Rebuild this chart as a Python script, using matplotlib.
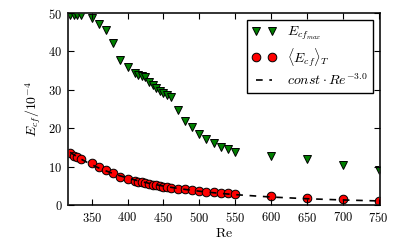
import matplotlib
matplotlib.use("Agg")
import matplotlib.pyplot as plt
import numpy as np
from matplotlib.ticker import FuncFormatter

plt.rcParams['mathtext.fontset'] = 'cm'
plt.rcParams['font.family'] = 'DejaVu Serif'

re_vals = [320, 325, 330, 335, 350, 360, 370, 380, 390, 400, 410, 415, 420, 425,
           430, 435, 440, 445, 450, 455, 460, 470, 480, 490, 500, 510, 520, 530,
           540, 550, 600, 650, 700, 750]
ecf_max = [49.4, 49.4, 49.4, 49.4, 48.6, 47.1, 45.7, 42.3, 37.9, 36.0, 34.5, 33.9,
           33.6, 33.3, 32.1, 31.2, 30.4, 29.8, 29.1, 28.6, 28.2, 24.7, 22.0, 20.2,
           18.5, 17.1, 16.1, 15.2, 14.5, 13.9, 12.8, 11.9, 10.4, 9.1]
ecf_mean = [13.5, 12.8, 12.4, 11.9, 10.9, 9.8, 9.1, 8.3, 7.4, 6.8, 6.3, 6.1, 5.9,
            5.7, 5.5, 5.3, 5.1, 4.9, 4.7, 4.6, 4.5, 4.3, 4.1, 3.85, 3.6, 3.4, 3.3,
            3.2, 3.0, 2.9, 2.3, 1.8, 1.5, 1.1]
fit_const = 4.5e8
fit_exp = -3.0
x_ticks = [350, 400, 450, 500, 550, 600, 650, 700, 750]
y_ticks = [0, 10, 20, 30, 40, 50]

fig = plt.figure(figsize=(4.0, 2.47), dpi=100)
ax = fig.add_axes([0.17, 0.17, 0.78, 0.777])

ax.plot(re_vals, ecf_max, linestyle='none', marker='v', markersize=6.2,
        markerfacecolor='#008000', markeredgecolor='black', markeredgewidth=0.7,
        label=r'$E_{{cf}_{max}}$')
ax.plot(re_vals, ecf_mean, linestyle='none', marker='o', markersize=6.2,
        markerfacecolor='#ff0000', markeredgecolor='black', markeredgewidth=0.7,
        label=r'$\langle E_{cf}\rangle_T$')
re_arr = np.array(re_vals, dtype=float)
ax.plot(re_arr, fit_const * re_arr ** fit_exp, color='black', linewidth=1.2,
        dashes=(4, 4), label=r'$const\cdot Re^{-3.0}$')

ax.set_xlim(317, 752)
ax.set_ylim(0, 50)
ax.set_xticks(x_ticks)
ax.set_yticks(y_ticks)
fmt = FuncFormatter(lambda v, p: r'$%d$' % v)
ax.xaxis.set_major_formatter(fmt)
ax.yaxis.set_major_formatter(fmt)
ax.tick_params(direction='in', top=True, right=True, length=4, width=0.8,
               labelsize=9, pad=4)
ax.set_axisbelow(False)
for s in ax.spines.values():
    s.set_linewidth(1.3)
    s.set_color('#222222')

ax.set_xlabel(r'$\mathrm{Re}$', fontsize=10, labelpad=1)
ax.set_ylabel(r'$E_{cf}/10^{-4}$', fontsize=10, labelpad=4)

leg = ax.legend(loc='upper right', numpoints=2, fontsize=10, fancybox=False,
                edgecolor='black', framealpha=1, borderaxespad=0.5,
                handlelength=1.8, labelspacing=0.25, borderpad=0.35)
leg.get_frame().set_linewidth(1.0)

fig.savefig('out.png', dpi=100)
